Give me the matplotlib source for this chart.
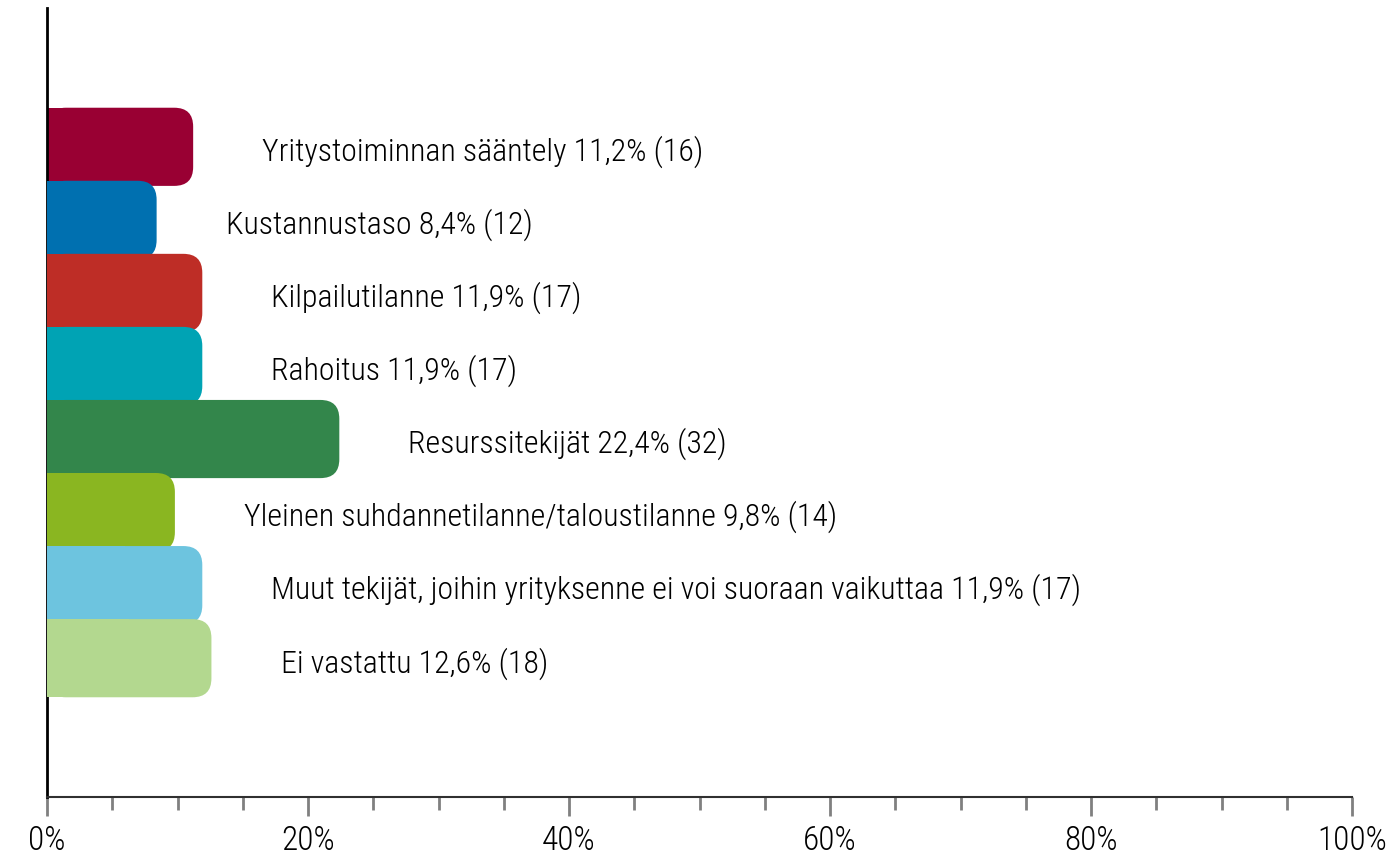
import matplotlib.pyplot as plt
from matplotlib.patches import FancyBboxPatch

names = ["Yritystoiminnan sääntely", "Kustannustaso", "Kilpailutilanne", "Rahoitus",
         "Resurssitekijät", "Yleinen suhdannetilanne/taloustilanne",
         "Muut tekijät, joihin yrityksenne ei voi suoraan vaikuttaa", "Ei vastattu"]
percents = [11.2, 8.4, 11.9, 11.9, 22.4, 9.8, 11.9, 12.6]
counts = [16, 12, 17, 17, 32, 14, 17, 18]
colors = ["#990033", "#0070B0", "#BE2D26", "#00A3B4", "#33864B", "#8AB621",
          "#6DC4DF", "#B3D88F"]
xticks = [0, 20, 40, 60, 80, 100]

plt.rcParams['font.family'] = ["Roboto Condensed", "DejaVu Sans"]
plt.rcParams['font.weight'] = "light"

fig = plt.figure(figsize=(13.89, 8.63), dpi=100)
ax = fig.add_axes([47/1389, 66/863, 1305/1389, 789/863])

h = 1.07
r = 1.45           # rounding in x units
asp = (1/73) / (100/1305)
fs = 24
texts = []
for i, (v, c) in enumerate(zip(percents, colors)):
    ax.barh(i, v / 2, height=h, color=c, zorder=2 + i)
    box = FancyBboxPatch((0, i - h/2), v, h,
                         boxstyle=f"round,pad=0,rounding_size={r}",
                         mutation_aspect=asp, fc=c, ec="none", zorder=2 + i)
    ax.add_patch(box)
    lab = f"{names[i]} {str(v).replace('.', ',')}% ({counts[i]})"
    texts.append(ax.text(v + 5.3, i + 0.07, lab, fontsize=fs, va="center",
                         ha="left", zorder=20))

# fit the longest label to its width in the reference (about 810 px)
fig.canvas.draw()
w = texts[6].get_window_extent().width
fs = fs * 810 / w
for t in texts:
    t.set_fontsize(fs)

ax.set_xlim(0, 100)
ax.set_ylim(8.9, -1.9)
ax.set_yticks([])
ax.set_xticks(xticks)
ax.set_xticklabels([f"{t}%" for t in xticks], fontsize=fs + 1)
ax.set_xticks(range(0, 101, 5), minor=True)
ax.tick_params(axis="x", which="major", length=14, width=2, color="#808080", pad=6)
ax.tick_params(axis="x", which="minor", length=9, width=2, color="#808080")
for s in ["top", "right"]:
    ax.spines[s].set_visible(False)
ax.spines["left"].set_linewidth(2)
ax.spines["left"].set_color("black")
ax.spines["bottom"].set_linewidth(1.5)
ax.spines["bottom"].set_color("#303030")

fig.savefig("out.png", dpi=100)
